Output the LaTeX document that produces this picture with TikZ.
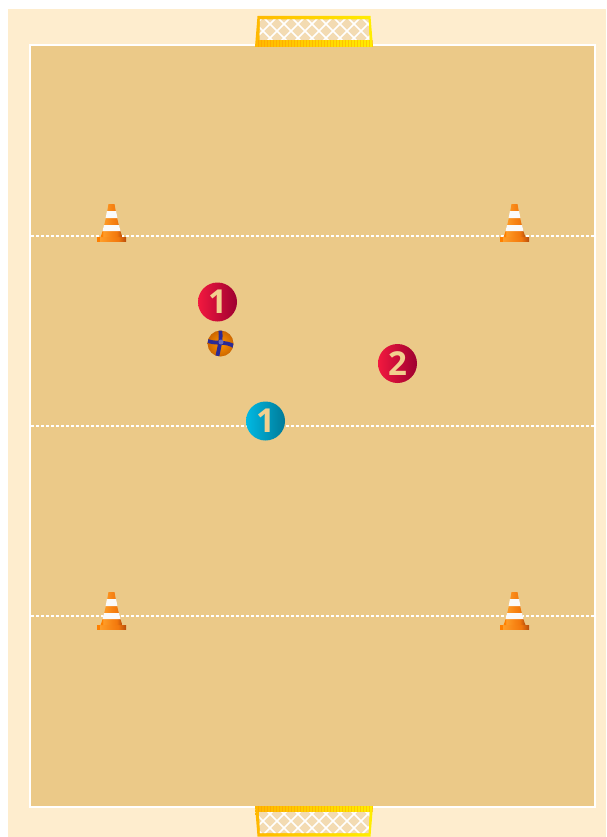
\documentclass[tikz,border=0pt]{standalone}
\usepackage{fontspec}
\setmainfont{Open Sans}
\definecolor{cream}{HTML}{FEEDCE}
\definecolor{fieldc}{HTML}{EBC988}
\definecolor{nettan}{HTML}{F3DBB2}
\definecolor{digit}{HTML}{F2CF8E}
\definecolor{goalL}{HTML}{FFB800}
\definecolor{goalR}{HTML}{FFEE00}
\definecolor{redL}{HTML}{F2183F}
\definecolor{redM}{HTML}{E0143A}
\definecolor{redR}{HTML}{9E0030}
\definecolor{blueL}{HTML}{00B9E3}
\definecolor{blueM}{HTML}{00AFD6}
\definecolor{blueR}{HTML}{007A98}
\definecolor{ballD}{HTML}{2A2A96}
\pgfdeclarehorizontalshading{coneshade}{100bp}{
  color(0bp)=(orange!100!black);
  color(25bp)=(orange!100!black);
  color(30bp)=(orange!100!black);
  rgb(30bp)=(1,.62,.16);
  rgb(50bp)=(.97,.52,.08);
  rgb(62bp)=(.95,.47,.05);
  rgb(75bp)=(.72,.30,.04);
  rgb(100bp)=(.72,.30,.04)}
\tikzset{
  player/.style={circle,minimum size=39pt,inner sep=0pt,text=digit,font=\fontsize{33}{33}\selectfont\bfseries},
  redplayer/.style={player,left color=redL,middle color=redM,right color=redR},
  blueplayer/.style={player,left color=blueL,middle color=blueM,right color=blueR},
  zone/.style={white,line width=1.3pt,dash pattern=on 3pt off 2pt},
  netline/.style={white,line width=1.6pt},
  rib/.style={orange,line width=.7pt,opacity=.3},
  conebody/.style={shading=coneshade},
  pics/cone/.style={code={
    \shade[conebody] (-14.5,33) -- (14.5,33) -- (14.5,37) -- (-14.5,37) -- cycle;
    \shade[conebody] (-3,0) .. controls (-5,12) and (-8,26) .. (-11,33) -- (11,33) .. controls (8,26) and (5,12) .. (3,0) -- cycle;
    \fill[white!96!gray] (-4.6,7) -- (4.6,7) -- (5.9,14) -- (-5.9,14) -- cycle;
    \fill[white!96!gray] (-7.5,21) -- (7.5,21) -- (9,27) -- (-9,27) -- cycle;
  }}
}
\begin{document}
\begin{tikzpicture}[x=1pt,y=-1pt]
\useasboundingbox (0,0) rectangle (606,837);
\fill[cream] (8,9) rectangle (606,837);
\fill[fieldc,draw=white,line width=2pt] (30,45) rectangle (595,807);
% zone lines
\draw[zone] (31,236) -- (594,236);
\draw[zone] (31,426) -- (594,426);
\draw[zone] (31,616) -- (594,616);
% top goal
\shade[left color=goalL,right color=goalR] (257.5,16) -- (370.5,16) -- (373,47) -- (255,47) -- cycle;
\foreach \x in {258,261,...,372}{\draw[rib] (\x,40) -- (\x,47);}
\begin{scope}
  \clip (260,19.5) -- (368.5,19.5) -- (369.5,40) -- (259.5,40) -- cycle;
  \fill[nettan] (250,15) rectangle (380,45);
  \foreach \x in {200,214,...,440}{
    \draw[netline] (\x,10) -- (\x+40,50);
    \draw[netline] (\x,10) -- (\x-40,50);
  }
\end{scope}
% bottom goal
\shade[left color=goalL,right color=goalR] (255,806) -- (373,806) -- (370.5,836.5) -- (257.5,836.5) -- cycle;
\foreach \x in {258,261,...,372}{\draw[rib] (\x,806) -- (\x,812);}
\begin{scope}
  \clip (259,812) -- (369.5,812) -- (368.5,833) -- (260,833) -- cycle;
  \fill[nettan] (250,805) rectangle (380,840);
  \foreach \x in {200,214,...,440}{
    \draw[netline] (\x,800) -- (\x+45,845);
    \draw[netline] (\x,800) -- (\x-45,845);
  }
\end{scope}
% cones
\pic at (111.5,204) {cone};
\pic at (514.5,204) {cone};
\pic at (111.5,592) {cone};
\pic at (514.5,592) {cone};
% ball
\shade[inner color=orange!85!yellow,outer color=orange!80!black] (220.5,343.5) circle (13);
\begin{scope}
  \clip (220.5,343.5) circle (13);
  \draw[ballD,line width=3.8pt] (220,329) .. controls (222,338) and (219,348) .. (217,358);
  \draw[ballD,line width=3.8pt] (206,340) .. controls (214,345) and (226,340) .. (235,347);
  \fill[ballD!70!white] (221,342) circle (2.5);
\end{scope}
% players
\node[redplayer] (r1) at (217.5,302) {1};
\node[redplayer] (r2) at (397.5,363.5) {2};
\node[blueplayer] (b1) at (265.5,421) {1};
\end{tikzpicture}
\end{document}
